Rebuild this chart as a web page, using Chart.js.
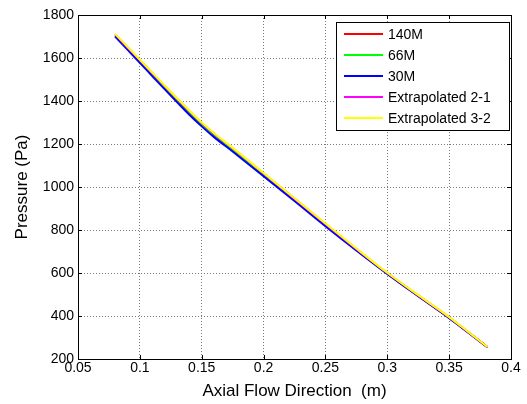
<!DOCTYPE html>
<html>
<head>
<meta charset="utf-8">
<script src="https://cdn.jsdelivr.net/npm/chart.js@4/dist/chart.umd.min.js"></script>
<style>
  html, body { margin: 0; padding: 0; background: #fff; }
  #wrap { width: 527px; height: 404px; }
</style>
</head>
<body>
<div id="wrap"><canvas id="pressureChart" width="527" height="404"></canvas></div>
<script>
// values
const axialPos = [0.08, 0.09, 0.1, 0.11, 0.12, 0.13, 0.14, 0.15, 0.16, 0.175, 0.2, 0.225, 0.25, 0.275, 0.3, 0.325, 0.35, 0.365, 0.381];
const p140M  = [1706, 1646, 1586, 1525, 1464, 1404, 1346, 1291, 1241, 1173, 1058, 942, 824, 710, 598, 494, 392, 326, 255];
const p66M   = [1704, 1644, 1583, 1522, 1460, 1400, 1342, 1287, 1237, 1170, 1055, 940, 822, 708, 597, 494, 392, 326, 255];
const p30M   = [1700, 1639, 1578, 1516, 1455, 1395, 1336, 1282, 1232, 1165, 1050, 935, 818, 705, 596, 492, 390, 325, 255];
const pExt21 = [1710, 1650, 1590, 1530, 1470, 1411, 1353, 1298, 1248, 1180, 1063, 946, 828, 712, 600, 496, 394, 327, 256];
const pExt32 = [1712, 1652, 1592, 1532, 1472, 1413, 1355, 1300, 1250, 1182, 1065, 948, 830, 714, 601, 497, 395, 328, 256];

const seriesNames = ['140M', '66M', '30M', 'Extrapolated 2-1', 'Extrapolated 3-2'];
const seriesColors = ['#ff0000', '#00ff00', '#0000ff', '#ff00ff', '#ffff00'];
const seriesValues = [p140M, p66M, p30M, pExt21, pExt32];

const xTicks = [0.05, 0.1, 0.15, 0.2, 0.25, 0.3, 0.35, 0.4];
const yTicks = [200, 400, 600, 800, 1000, 1200, 1400, 1600, 1800];

const FONT = "'Liberation Sans', Arial, Helvetica, sans-serif";

// matlab-style frame: box, inward ticks, legend inside the axes
const matlabFrame = {
    id: 'matlabFrame',
    afterDatasetsDraw(chart) {
        const ctx = chart.ctx;
        const area = chart.chartArea;
        const xs = chart.scales.x;
        const ys = chart.scales.y;
        ctx.save();
        ctx.strokeStyle = '#000';
        ctx.lineWidth = 1;
        ctx.beginPath();
        xTicks.forEach(v => {
            const px = Math.round(xs.getPixelForValue(v)) + 0.5;
            ctx.moveTo(px, area.bottom); ctx.lineTo(px, area.bottom - 4);
            ctx.moveTo(px, area.top); ctx.lineTo(px, area.top + 4);
        });
        yTicks.forEach(v => {
            const py = Math.round(ys.getPixelForValue(v)) + 0.5;
            ctx.moveTo(area.left, py); ctx.lineTo(area.left + 4, py);
            ctx.moveTo(area.right, py); ctx.lineTo(area.right - 4, py);
        });
        ctx.stroke();
        ctx.strokeRect(Math.round(area.left) + 0.5, Math.round(area.top) + 0.5,
            Math.round(area.right - area.left), Math.round(area.bottom - area.top));

        // legend box
        const bx = 336.5, by = 22.5, bw = 173, bh = 108;
        ctx.fillStyle = '#fff';
        ctx.fillRect(bx, by, bw, bh);
        ctx.strokeRect(bx, by, bw, bh);
        ctx.font = '14px ' + FONT;
        ctx.textBaseline = 'middle';
        ctx.textAlign = 'left';
        seriesNames.forEach((name, i) => {
            const yy = 34 + i * 21;
            ctx.strokeStyle = seriesColors[i];
            ctx.lineWidth = 2;
            ctx.beginPath();
            ctx.moveTo(344, yy); ctx.lineTo(383, yy);
            ctx.stroke();
            ctx.fillStyle = '#000';
            ctx.fillText(name, 388, yy + 1);
        });
        ctx.restore();
    }
};

const ctx = document.getElementById('pressureChart').getContext('2d');
new Chart(ctx, {
    type: 'line',
    data: {
        datasets: seriesNames.map((name, i) => ({
            label: name,
            data: axialPos.map((x, j) => ({ x: x, y: seriesValues[i][j] })),
            borderColor: seriesColors[i],
            backgroundColor: seriesColors[i],
            borderWidth: 2,
            pointRadius: 0,
            fill: false,
            order: seriesNames.length - i,   // later series on top, like matlab
            cubicInterpolationMode: 'monotone'
        }))
    },
    options: {
        responsive: false,
        animation: false,
        layout: { padding: { top: 15, right: 16, left: 0, bottom: 0 } },
        plugins: {
            legend: { display: false },
            tooltip: { enabled: false }
        },
        scales: {
            x: {
                type: 'linear',
                min: 0.05,
                max: 0.4,
                afterBuildTicks: (scale) => { scale.ticks = xTicks.map(v => ({ value: v })); },
                afterFit: (scale) => { scale.height = 45; },
                ticks: {
                    color: '#000',
                    font: { family: FONT, size: 14 },
                    padding: 1,
                    maxRotation: 0,
                    autoSkip: false,
                    callback: (v) => String(v)
                },
                grid: { color: '#7a7a7a', lineWidth: 1, drawTicks: false },
                border: { display: false, dash: [1, 2] },
                title: {
                    display: true,
                    text: 'Axial Flow Direction  (m)',
                    color: '#000',
                    font: { family: FONT, size: 17 },
                    padding: { top: 0, bottom: 2 }
                }
            },
            y: {
                type: 'linear',
                min: 200,
                max: 1800,
                afterBuildTicks: (scale) => { scale.ticks = yTicks.map(v => ({ value: v })); },
                afterFit: (scale) => { scale.width = 78; },
                ticks: {
                    color: '#000',
                    font: { family: FONT, size: 14 },
                    padding: 4,
                    autoSkip: false,
                    callback: (v) => String(v)
                },
                grid: { color: '#7a7a7a', lineWidth: 1, drawTicks: false },
                border: { display: false, dash: [1, 2] },
                title: {
                    display: true,
                    text: 'Pressure (Pa)',
                    color: '#000',
                    font: { family: FONT, size: 17 },
                    padding: { top: 12, bottom: 0 }
                }
            }
        }
    },
    plugins: [matlabFrame]
});
</script>
</body>
</html>
